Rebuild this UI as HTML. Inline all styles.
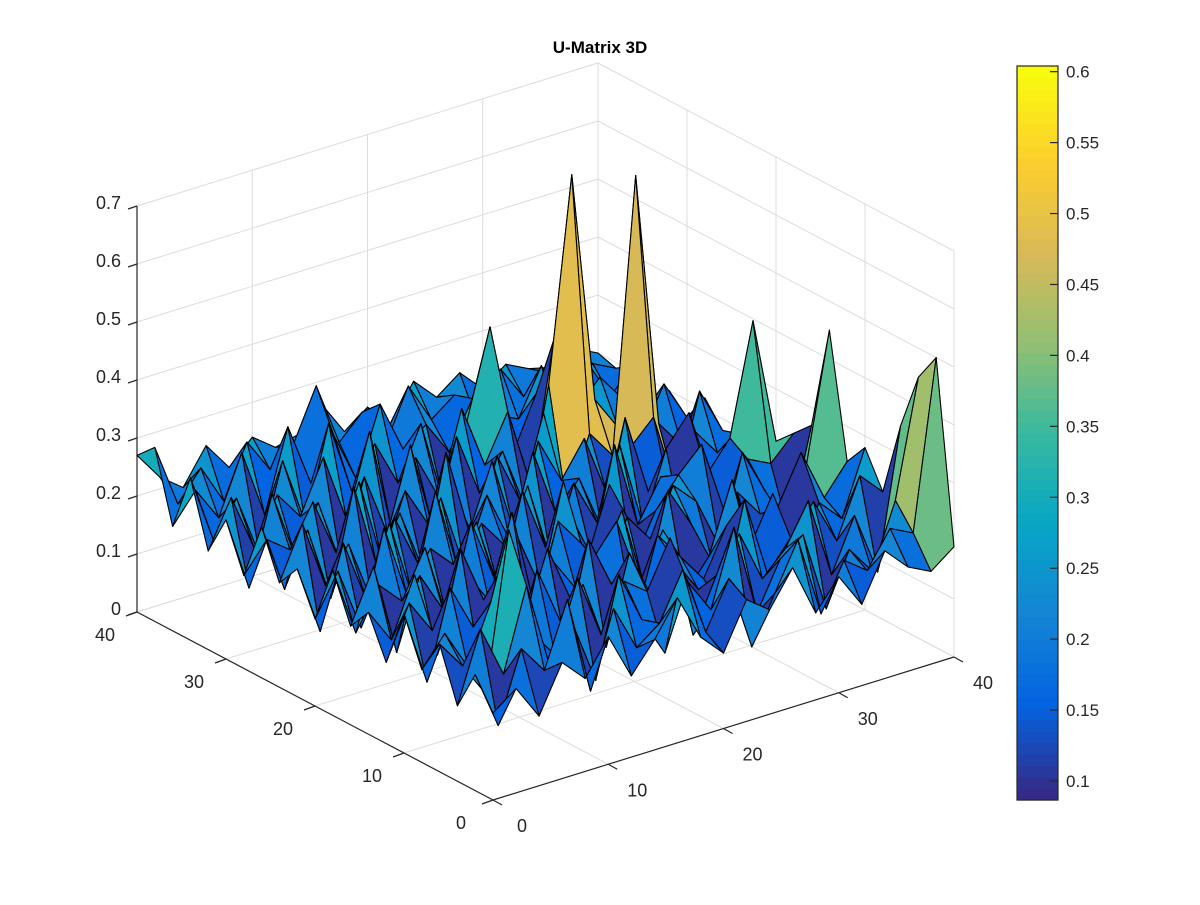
<!DOCTYPE html>
<html><head><meta charset="utf-8"><style>
html,body{margin:0;padding:0;background:#fff;}
svg text{font-family:"Liberation Sans",sans-serif;fill:#262626;}
</style></head><body>
<svg id="chart" width="1200" height="900" viewBox="0 0 1200 900" xmlns="http://www.w3.org/2000/svg">
<rect width="1200" height="900" fill="#fff"/>
<text x="600" y="53" text-anchor="middle" font-size="17" font-weight="bold" style="fill:#000">U-Matrix 3D</text>
<g id="grid"></g>
<g id="axes"></g>
<g id="surf"></g>
<g id="cbar"></g>
</svg>
<script>
// grid coordinates (both horizontal axes)
const gridCoords = [0,2,4,6,8,10,12,14,16,18,20,22,24,26,28,30,32,34,36,38,40];
const zTicks = [0,0.1,0.2,0.3,0.4,0.5,0.6,0.7];
const zTickLabels = ["0","0.1","0.2","0.3","0.4","0.5","0.6","0.7"];
const xyTicks = [0,10,20,30,40];
const xyTickLabels = ["0","10","20","30","40"];
const cbTicks = [0.1,0.15,0.2,0.25,0.3,0.35,0.4,0.45,0.5,0.55,0.6];
const cbTickLabels = ["0.1","0.15","0.2","0.25","0.3","0.35","0.4","0.45","0.5","0.55","0.6"];
const cLim = [0.0866,0.604];
// heights (hundredths), rows = left-axis coordinate, cols = right-axis coordinate
const zRows = [
[15,18,12,20,16,22,14,19,25,17,13,21,18,24,15,20,14,22,18,16,19],
[20,10,22,17,28,11,24,16,19,27,15,23,10,18,26,12,20,17,23,21,50],
[13,25,16,30,15,21,10,27,18,11,22,16,29,13,21,24,10,19,14,25,45],
[22,17,11,38,19,14,26,15,23,20,28,10,19,25,16,20,27,13,22,11,35],
[16,21,14,24,10,27,17,22,10,25,16,21,15,11,28,14,19,24,16,26,22],
[24,11,26,18,22,15,20,10,27,18,10,24,19,14,22,17,25,10,21,17,28],
[14,23,17,21,10,24,13,25,15,21,26,14,22,10,15,27,13,20,28,19,24],
[21,15,25,10,27,17,22,11,20,14,17,25,10,26,19,10,22,17,15,23,45],
[17,26,10,22,15,20,14,28,10,24,19,11,21,16,24,20,11,26,18,10,27],
[25,13,20,16,24,10,26,15,21,11,28,13,25,10,18,23,27,14,22,20,24],
[15,22,11,27,14,21,17,23,10,26,15,20,11,29,14,21,10,19,24,43,21],
[22,10,24,13,25,11,28,13,20,15,24,10,22,14,26,11,23,28,15,22,25],
[18,27,15,21,10,23,14,24,11,22,13,27,15,20,10,28,14,11,22,17,19],
[26,14,23,10,28,13,21,10,29,14,25,11,26,18,24,13,20,24,10,26,18],
[16,21,18,25,15,26,11,22,15,20,10,23,14,28,11,22,17,64,20,15,22],
[24,11,26,14,22,10,24,13,27,11,26,15,21,10,30,65,25,19,16,24,17],
[17,25,15,23,18,27,15,29,10,22,14,28,17,25,11,35,22,26,21,18,20],
[28,16,22,11,26,14,30,17,24,16,25,10,23,38,15,24,17,20,15,23,16],
[18,23,17,27,15,29,18,25,16,28,19,22,16,24,20,18,26,16,24,17,21],
[30,19,24,17,26,20,23,32,21,25,18,27,20,23,17,25,19,22,18,21,19],
[27,22,19,25,20,24,21,22,26,20,23,19,25,21,24,20,23,21,20,22,20]
];
const NS='http://www.w3.org/2000/svg';
function px(x,y,z){return 493 + x*461/40 - y*356/40;}
function py(x,y,z){return 800 - x*143/40 - y*188/40 - z*580;}
const parula=[[53,42,135],[3,99,225],[20,133,212],[6,167,198],[56,185,158],[146,191,115],[217,186,86],[252,206,46],[249,251,14]];
function cmap(v){let t=(v-cLim[0])/(cLim[1]-cLim[0]);t=Math.max(0,Math.min(1,t));
 t=Math.round(t*63)/63;const f=t*(parula.length-1);const i=Math.min(parula.length-2,Math.floor(f));const r=f-i;
 const c=parula[i].map((a,k)=>Math.round(a+(parula[i+1][k]-a)*r));return `rgb(${c[0]},${c[1]},${c[2]})`;}
function el(tag,attrs,parent){const e=document.createElementNS(NS,tag);for(const k in attrs)e.setAttribute(k,attrs[k]);parent.appendChild(e);return e;}
const grid=document.getElementById('grid'),axes=document.getElementById('axes'),surf=document.getElementById('surf'),cbar=document.getElementById('cbar');
const gs={stroke:'#dcdcdc','stroke-width':1,fill:'none'};
function line(p,a,b,st){const l=el('line',Object.assign({x1:a[0],y1:a[1],x2:b[0],y2:b[1]},st),p);return l;}
const zTop=zTicks[zTicks.length-1];
xyTicks.forEach(t=>{
 let l=line(grid,[px(t,40,0),py(t,40,0)],[px(t,40,zTop),py(t,40,zTop)],gs);
 
 
 l=line(grid,[px(40,t,0),py(40,t,0)],[px(40,t,zTop),py(40,t,zTop)],gs);
 
 
 l=line(grid,[px(t,0,0),py(t,0,0)],[px(t,40,0),py(t,40,0)],gs);
 
 
 l=line(grid,[px(0,t,0),py(0,t,0)],[px(40,t,0),py(40,t,0)],gs);
 
 
});
zTicks.forEach(z=>{
 let l=line(grid,[px(0,40,z),py(0,40,z)],[px(40,40,z),py(40,40,z)],gs);
 
 
 l=line(grid,[px(40,40,z),py(40,40,z)],[px(40,0,z),py(40,0,z)],gs);
 
 
});
const as={stroke:'#262626','stroke-width':1.2};
let a1=line(axes,[px(0,40,0),py(0,40,0)],[px(0,40,zTop),py(0,40,zTop)],as);


let a2=line(axes,[px(0,0,0),py(0,0,0)],[px(0,40,0),py(0,40,0)],as);


let a3=line(axes,[px(0,0,0),py(0,0,0)],[px(40,0,0),py(40,0,0)],as);


zTicks.forEach((z,i)=>{
 const x=px(0,40,z),y=py(0,40,z);
 line(axes,[x,y],[x-9,y+3],as);
 const t=el('text',{x:x-16,y:y+3,'text-anchor':'end','font-size':18},axes);
 
 
 t.textContent=zTickLabels[i];
});
xyTicks.forEach((v,i)=>{
 let x=px(0,v,0),y=py(0,v,0);
 line(axes,[x,y],[x-11,y+4],as);
 let t=el('text',{x:x-32,y:y+29,'text-anchor':'middle','font-size':18},axes);
 
 
 t.textContent=xyTickLabels[i];
 x=px(v,0,0);y=py(v,0,0);
 line(axes,[x,y],[x+9,y+5],as);
 t=el('text',{x:x+29,y:y+32,'text-anchor':'middle','font-size':18},axes);
 
 
 t.textContent=xyTickLabels[i];
});
const faces=[];
for(let r=0;r<gridCoords.length-1;r++)for(let c=0;c<gridCoords.length-1;c++)faces.push([r,c]);
faces.sort((A,B)=>(B[0]+B[1])-(A[0]+A[1]));
faces.forEach(([r,c])=>{
 const pts=[[r,c],[r,c+1],[r+1,c+1],[r+1,c]].map(([i,j])=>{const z=zRows[i][j]/100,x=gridCoords[j],y=gridCoords[i];return [px(x,y,z),py(x,y,z),z];});
 const zs=pts.map(q=>q[2]);const mx=Math.max(...zs);const avg=zs.reduce((a,b)=>a+b,0)/4;
 const cv=mx>0.35?(avg+mx)/2:zs[0];
 const p=el('polygon',{points:pts.map(q=>q[0].toFixed(1)+','+q[1].toFixed(1)).join(' '),fill:cmap(cv),stroke:'#000','stroke-width':1.1,'stroke-linejoin':'round'},surf);
 
 
});
const cbX=1017,cbW=41,cbTop=66,cbBot=800;
function cy(v){return cbBot-(v-cLim[0])/(cLim[1]-cLim[0])*(cbBot-cbTop);}
for(let k=0;k<64;k++){
 const v0=cLim[0]+(cLim[1]-cLim[0])*k/64,v1=cLim[0]+(cLim[1]-cLim[0])*(k+1)/64;
 const rc=el('rect',{x:cbX,y:cy(v1),width:cbW,height:cy(v0)-cy(v1)+0.6,fill:cmap((v0+v1)/2)},cbar);
 
 
}
const br=el('rect',{x:cbX,y:cbTop,width:cbW,height:cbBot-cbTop,fill:'none',stroke:'#262626','stroke-width':1.2},cbar);


cbTicks.forEach((v,i)=>{
 const y=cy(v);
 line(cbar,[cbX+cbW-8,y],[cbX+cbW,y],as);
 const t=el('text',{x:cbX+cbW+8,y:y+6,'font-size':17},cbar);
 
 
 t.textContent=cbTickLabels[i];
});
</script>
</body></html>
